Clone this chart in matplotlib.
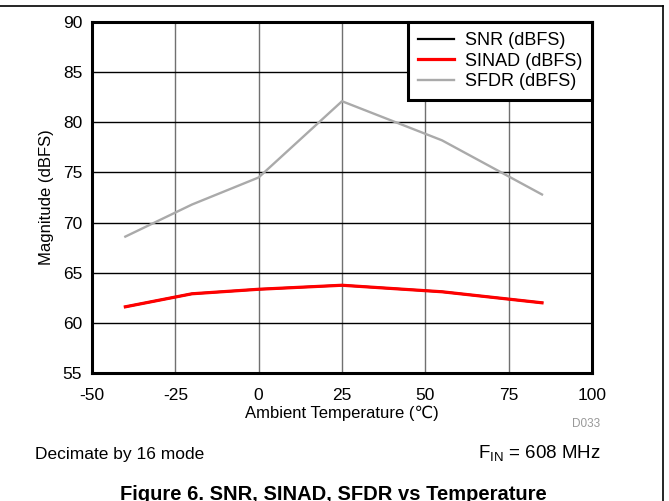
import matplotlib
matplotlib.use("Agg")
import matplotlib.pyplot as plt
from matplotlib.lines import Line2D

plt.rcParams["font.family"] = ["Liberation Sans", "DejaVu Sans"]
plt.rcParams["mathtext.fontset"] = "custom"
plt.rcParams["mathtext.rm"] = "Liberation Sans"

temps = [-40, -20, 0, 25, 55, 85]
snr = [61.6, 62.9, 63.35, 63.75, 63.1, 62.0]
sinad = [61.6, 62.9, 63.35, 63.75, 63.1, 62.0]
sfdr = [68.6, 71.8, 74.5, 82.1, 78.2, 72.8]
xticks = [-50, -25, 0, 25, 50, 75, 100]
yticks = [55, 60, 65, 70, 75, 80, 85, 90]

fig = plt.figure(figsize=(6.69, 5.01), dpi=100)
W, H = 669, 501
ax = fig.add_axes([92 / W, 1 - 373 / H, 500 / W, 351 / H])

ax.plot(temps, snr, color="black", lw=1.6, label="SNR (dBFS)")
ax.plot(temps, sinad, color="#ff0000", lw=2.3, label="SINAD (dBFS)")
ax.plot(temps, sfdr, color="#aaaaaa", lw=1.7, label="SFDR (dBFS)")

ax.set_xlim(-50, 100)
ax.set_ylim(55, 90)
ax.set_xticks(xticks)
ax.set_yticks(yticks)
ax.set_xticklabels([str(t) for t in xticks])
ax.set_yticklabels([str(t) for t in yticks])
ax.tick_params(axis="x", length=0, labelsize=12.5, pad=11)
ax.tick_params(axis="y", length=0, labelsize=12.5, pad=7)
for v in xticks[1:-1]:
    ax.axvline(v, color="#707070", lw=1.0, zorder=0)
for v in yticks[1:-1]:
    ax.axhline(v, color="black", lw=1.0, zorder=0)
for s in ax.spines.values():
    s.set_linewidth(2.2)

ax.set_xlabel("Ambient Temperature (\u2103)", fontsize=12, labelpad=2)
ax.set_ylabel("Magnitude (dBFS)", fontsize=12, labelpad=6)

leg = ax.legend(loc="upper right", borderaxespad=0, fancybox=False,
                framealpha=1, edgecolor="black", fontsize=13,
                handlelength=2.0, handletextpad=0.6, labelspacing=0.2,
                borderpad=0.55)
leg.get_frame().set_linewidth(2.2)

fig.text(600 / W, 1 - 424 / H, "D033", fontsize=8.5, color="#999999",
         ha="right", va="center")
fig.text(35 / W, 1 - 454 / H, "Decimate by 16 mode", fontsize=12.5,
         ha="left", va="center")
fig.text(601 / W, 1 - 454 / H, r"F$_{\mathrm{IN}}$ = 608 MHz", fontsize=13.5,
         ha="right", va="center")
fig.text(333 / W, 1 - 485 / H, "Figure 6. SNR, SINAD, SFDR vs Temperature",
         fontsize=14.5, fontweight="bold", ha="center", va="top")

# page frame lines (top and right)
fig.add_artist(Line2D([0, 663 / W], [1 - 6 / H, 1 - 6 / H], color="black",
                      lw=1.2, transform=fig.transFigure))
fig.add_artist(Line2D([663 / W, 663 / W], [0, 1 - 6 / H], color="black",
                      lw=1.2, transform=fig.transFigure))

fig.savefig("out.png", dpi=100)
